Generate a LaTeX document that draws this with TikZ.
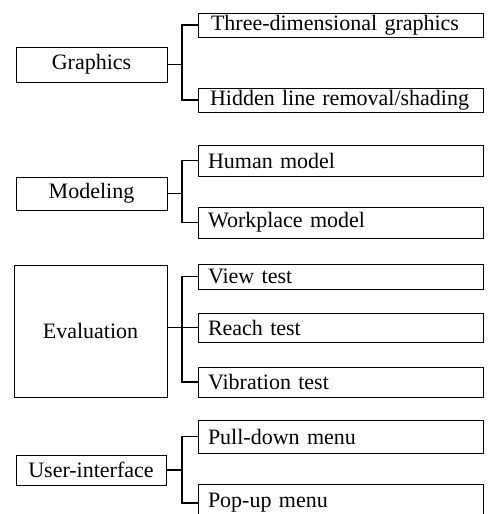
\documentclass[tikz,border=0pt]{standalone}
\usepackage{fontspec}
\setmainfont{Liberation Serif}
\begin{document}
\begin{tikzpicture}[x=1pt,y=-1pt,
  boxline/.style={draw=black,line width=0.7pt},
  catbox/.style={boxline,rectangle,minimum width=151pt,inner sep=0pt,
    font=\fontsize{22}{24}\selectfont},
  itembox/.style={boxline,rectangle,minimum width=285pt,text width=265pt,inner xsep=10pt,inner ysep=0pt,
    align=left,font=\fontsize{22}{24}\selectfont},
  conn/.style={draw=black,line width=1.6pt},
  heavy/.style={draw=black,line width=1.5pt}]
\clip (0,0) rectangle (489,514);
\fill[white] (0,0) rectangle (489,514);
% category boxes
\node[catbox,minimum height=35pt] (G) at (91.5,64.5) {Graphics};
\node[catbox,minimum height=33pt] (M) at (91.5,193.5) {Modeling};
\node[catbox,minimum height=132pt,minimum width=153pt] (E) at (90.5,331) {Evaluation};
\node[catbox,minimum height=30pt,minimum width=150pt] (U) at (91,470) {User-interface};
% item boxes
\node[itembox,minimum height=24pt] (T3) at (340.5,25) {\mbox{\hspace*{3pt}Three-dimensional graphics}};
\node[itembox,minimum height=24pt] (HL) at (340.5,100) {\mbox{\hspace*{2pt}Hidden line removal/shading}};
\node[itembox,minimum height=31pt] (HM) at (340.5,160.5) {\mbox{Human model}};
\node[itembox,minimum height=31pt] (WM) at (340.5,222.5) {\mbox{Workplace model}};
\node[itembox,minimum height=25pt] (VT) at (340.5,276.5) {\mbox{View test}};
\node[itembox,minimum height=29pt] (RT) at (340.5,327.5) {\mbox{Reach test}};
\node[itembox,minimum height=30pt] (VB) at (340.5,382) {\mbox{Vibration test}};
\node[itembox,minimum height=33pt] (PD) at (340.5,436.5) {\mbox{Pull-down menu}};
\node[itembox,minimum height=38pt] (PU) at (340.5,503) {\mbox{Pop-up menu}};
% heavier bottom/right edges
\foreach \n in {G,M,E,U,T3,HL,HM,WM,VT,RT,VB,PD,PU}
  \draw[heavy] (\n.south west) -- (\n.south east) -- (\n.north east);
% bracket column
\coordinate (bx) at (182,0);
% connectors
\draw[conn] (T3.west) -| (T3.west -| bx) |- (HL.west);
\draw[conn] (G.east) -- (G.east -| bx);
\draw[conn] (HM.west) -| (HM.west -| bx) |- (WM.west);
\draw[conn] (M.east) -- (M.east -| bx);
\draw[conn] (VT.west) -| (VT.west -| bx) |- (VB.west);
\draw[conn] (E.east |- RT.west) -- (RT.west);
\draw[conn] (PD.west) -| (PD.west -| bx) |- (PU.west);
\draw[conn] (U.east) -- (U.east -| bx);
\end{tikzpicture}
\end{document}
